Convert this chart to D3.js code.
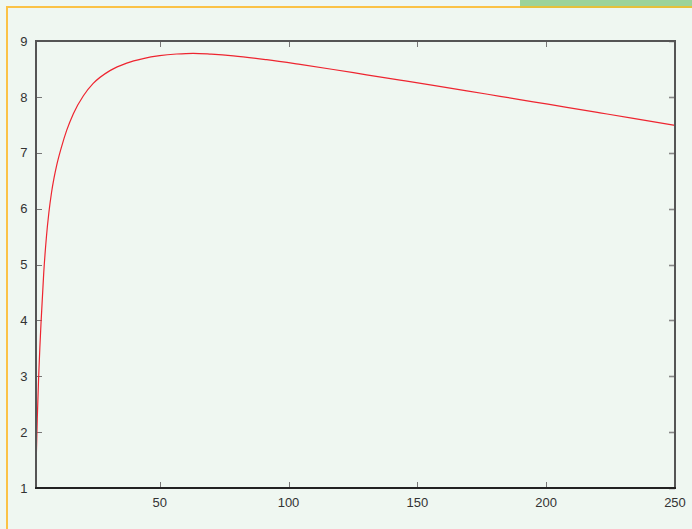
<!DOCTYPE html>
<html><head><meta charset="utf-8">
<script src="https://cdn.jsdelivr.net/npm/d3@7/dist/d3.min.js"></script>
<style>
html,body{margin:0;padding:0;background:#eff7f1;}
svg{display:block;}
text{font-family:"Liberation Sans",Arial,Helvetica,sans-serif;font-size:13px;fill:#333;}
</style></head>
<body>
<svg id="chart" width="692" height="529"></svg>
<script>
const xValues = [2, 2.5, 3, 3.5, 4, 5, 6, 7, 8, 9, 10, 12, 13.9, 16.5, 20.4, 24.2, 30.7, 37.2, 43.6, 50, 56.6, 63, 70, 78.6, 91.5, 104.5, 117.4, 130.3, 143.3, 156.2, 169.2, 182.1, 195, 208, 220.9, 233.8, 250];
const yValues = [1.36, 2.25, 2.95, 3.52, 4.0, 4.85, 5.47, 5.93, 6.28, 6.55, 6.77, 7.12, 7.40, 7.70, 8.02, 8.24, 8.47, 8.605, 8.685, 8.737, 8.767, 8.78, 8.765, 8.735, 8.665, 8.58, 8.49, 8.395, 8.30, 8.205, 8.108, 8.01, 7.912, 7.813, 7.714, 7.615, 7.49];
const xTicks = [50, 100, 150, 200, 250];
const yTicks = [1, 2, 3, 4, 5, 6, 7, 8, 9];
const xDomain = [2, 250];
const yDomain = [1, 9];

const svg = d3.select("#chart");
const W = 692, H = 529;
const L = 36, R = 675, T = 41, B = 488;

// decorative page frame
svg.append("rect").attr("x", 0).attr("y", 0).attr("width", W).attr("height", H).attr("fill", "#eff7f1");
svg.append("rect").attr("x", 520).attr("y", 0).attr("width", W - 520).attr("height", 6).attr("fill", "#9cd39a");
svg.append("line").attr("x1", 6).attr("x2", W).attr("y1", 7).attr("y2", 7).attr("stroke", "#fbc245").attr("stroke-width", 2);
svg.append("line").attr("x1", 520).attr("x2", W).attr("y1", 7).attr("y2", 7).attr("stroke", "#e6c03a").attr("stroke-width", 2);
svg.append("line").attr("x1", 7).attr("x2", 7).attr("y1", 6).attr("y2", H).attr("stroke", "#fbc245").attr("stroke-width", 2);

const x = d3.scaleLinear().domain(xDomain).range([L, R]);
const y = d3.scaleLinear().domain(yDomain).range([B, T]);

// ticks (inward, mirrored)
const tl = 6;
const tickG = svg.append("g").attr("stroke", "#777").attr("stroke-width", 1);
xTicks.forEach(t => {
  tickG.append("line").attr("x1", Math.round(x(t)) + 0.5).attr("x2", Math.round(x(t)) + 0.5).attr("y1", B).attr("y2", B - tl);
  tickG.append("line").attr("x1", Math.round(x(t)) + 0.5).attr("x2", Math.round(x(t)) + 0.5).attr("y1", T).attr("y2", T + tl);
});
yTicks.forEach(t => {
  tickG.append("line").attr("x1", L).attr("x2", L + tl).attr("y1", Math.round(y(t)) + 0.5).attr("y2", Math.round(y(t)) + 0.5);
  tickG.append("line").attr("x1", R).attr("x2", R - tl).attr("y1", Math.round(y(t)) + 0.5).attr("y2", Math.round(y(t)) + 0.5).attr("stroke-width", 1.6).attr("stroke", "#888");
});

// curve
const line = d3.line().x((d, i) => x(xValues[i])).y((d, i) => y(yValues[i])).curve(d3.curveMonotoneX);
svg.append("path").datum(yValues).attr("d", line).attr("fill", "none").attr("stroke", "#ee2530").attr("stroke-width", 1.2);

// frame
svg.append("path").attr("d", `M${L},${B}V${T}H${R}V${B}`).attr("fill", "none").attr("stroke", "#555").attr("stroke-width", 2);
svg.append("line").attr("x1", L - 1).attr("x2", R + 1).attr("y1", B).attr("y2", B).attr("stroke", "#222").attr("stroke-width", 2);

// labels
svg.append("g").selectAll("text").data(xTicks).join("text")
  .attr("x", d => x(d)).attr("y", 506.5).attr("text-anchor", "middle").text(d => d);
svg.append("g").selectAll("text").data(yTicks).join("text")
  .attr("x", 27.5).attr("y", d => y(d) + 4.7).attr("text-anchor", "end").text(d => d);
</script>
</body></html>
